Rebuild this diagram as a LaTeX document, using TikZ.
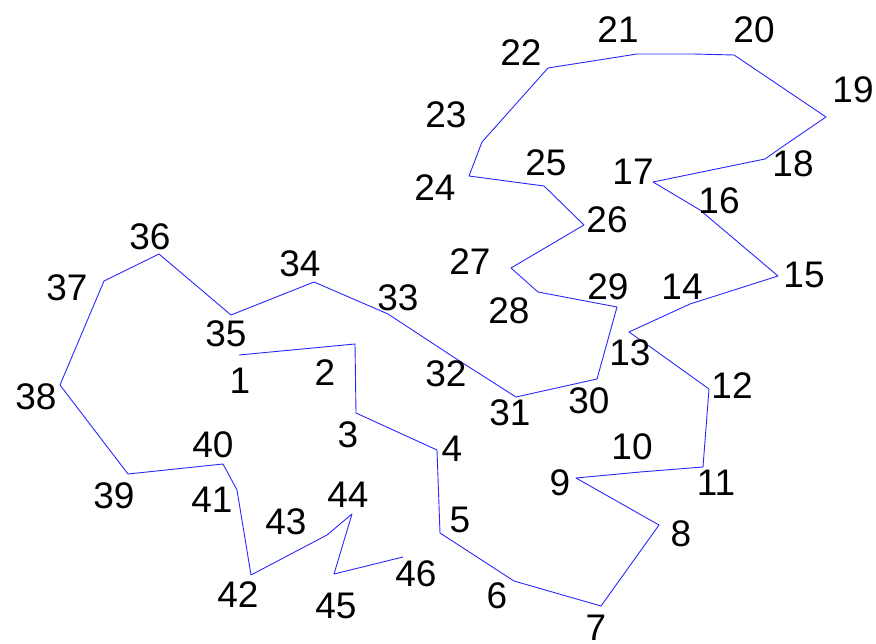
\documentclass[tikz,border=0pt]{standalone}
\usepackage{fontspec}
\setmainfont{Liberation Sans}
\definecolor{pathblue}{RGB}{40,40,255}
\begin{document}
\begin{tikzpicture}[x=1pt,y=-1pt,
  lbl/.style={inner sep=0pt,font=\fontsize{37}{40}\selectfont},
  route/.style={draw=pathblue,line width=0.9pt,line join=round}]
\useasboundingbox (0,0) rectangle (876,644);
% path vertices
\coordinate (p1) at (239,355);
\coordinate (p2) at (355,344);
\coordinate (p3) at (356,413);
\coordinate (p4) at (437,450);
\coordinate (p5) at (440,533);
\coordinate (p6) at (514,581);
\coordinate (p7) at (601,606);
\coordinate (p8) at (659,525);
\coordinate (p9) at (576,478);
\coordinate (p10) at (640,472);
\coordinate (p11) at (703,467);
\coordinate (p12) at (709,389);
\coordinate (k12) at (649,346);
\coordinate (p13) at (629,332);
\coordinate (p14) at (690,304);
\coordinate (p15) at (778,276);
\coordinate (p16) at (700,210);
\coordinate (p17) at (653,182);
\coordinate (p18) at (765,159);
\coordinate (k18) at (782,147);
\coordinate (p19) at (826,117);
\coordinate (p20) at (734,55);
\coordinate (p21) at (693,54);
\coordinate (k21) at (637,54);
\coordinate (p22) at (548,68);
\coordinate (p23) at (482,142);
\coordinate (p24) at (469,176);
\coordinate (p25) at (544,186);
\coordinate (p26) at (584,225);
\coordinate (p27) at (511,268);
\coordinate (p28) at (538,292);
\coordinate (p29) at (617,307);
\coordinate (p30) at (597,379);
\coordinate (p31) at (516,397);
\coordinate (p32) at (458,360);
\coordinate (p33) at (388,314);
\coordinate (p34) at (314,282);
\coordinate (p35) at (231,315);
\coordinate (p36) at (159,254);
\coordinate (p37) at (104,281);
\coordinate (p38) at (60,385);
\coordinate (p39) at (128,474);
\coordinate (p40) at (223,464);
\coordinate (p41) at (237,490);
\coordinate (p42) at (251,575);
\coordinate (p43) at (327,535);
\coordinate (p44) at (352,514);
\coordinate (p45) at (334,574);
\coordinate (p46) at (403,557);
\draw[route] (p1) -- (p2) -- (p3) -- (p4) -- (p5) -- (p6) -- (p7) -- (p8)
  -- (p9) -- (p10) -- (p11) -- (p12) -- (k12) -- (p13) -- (p14) -- (p15)
  -- (p16) -- (p17) -- (p18) -- (k18) -- (p19) -- (p20) -- (p21) -- (k21)
  -- (p22) -- (p23) -- (p24) -- (p25) -- (p26) -- (p27) -- (p28) -- (p29)
  -- (p30) -- (p31) -- (p32) -- (p33) -- (p34) -- (p35) -- (p36) -- (p37)
  -- (p38) -- (p39) -- (p40) -- (p41) -- (p42) -- (p43) -- (p44) -- (p45)
  -- (p46);
% labels
\node[lbl] (l1) at (240,381) {1};
\node[lbl] (l2) at (325,373) {2};
\node[lbl] (l3) at (348,435) {3};
\node[lbl] (l4) at (452,449) {4};
\node[lbl] (l5) at (460,520) {5};
\node[lbl] (l6) at (497,596) {6};
\node[lbl] (l7) at (596,628) {7};
\node[lbl] (l8) at (681,534) {8};
\node[lbl] (l9) at (560,483) {9};
\node[lbl] (l10) at (632,447) {10};
\node[lbl] (l11) at (716,483) {11};
\node[lbl] (l12) at (732,386) {12};
\node[lbl] (l13) at (630,353) {13};
\node[lbl] (l14) at (682,287) {14};
\node[lbl] (l15) at (804,275) {15};
\node[lbl] (l16) at (719,201) {16};
\node[lbl] (l17) at (633,172) {17};
\node[lbl] (l18) at (793,164) {18};
\node[lbl] (l19) at (853,90) {19};
\node[lbl] (l20) at (754,30) {20};
\node[lbl] (l21) at (618,30) {21};
\node[lbl] (l22) at (521,53) {22};
\node[lbl] (l23) at (446,115) {23};
\node[lbl] (l24) at (435,188) {24};
\node[lbl] (l25) at (546,163) {25};
\node[lbl] (l26) at (607,220) {26};
\node[lbl] (l27) at (470,262) {27};
\node[lbl] (l28) at (509,311) {28};
\node[lbl] (l29) at (608,287) {29};
\node[lbl] (l30) at (589,401) {30};
\node[lbl] (l31) at (510,413) {31};
\node[lbl] (l32) at (446,374) {32};
\node[lbl] (l33) at (398,298) {33};
\node[lbl] (l34) at (300,264) {34};
\node[lbl] (l35) at (226,334) {35};
\node[lbl] (l36) at (150,237) {36};
\node[lbl] (l37) at (67,288) {37};
\node[lbl] (l38) at (36,397) {38};
\node[lbl] (l39) at (114,496) {39};
\node[lbl] (l40) at (213,445) {40};
\node[lbl] (l41) at (212,500) {41};
\node[lbl] (l42) at (238,595) {42};
\node[lbl] (l43) at (286,522) {43};
\node[lbl] (l44) at (348,495) {44};
\node[lbl] (l45) at (336,606) {45};
\node[lbl] (l46) at (416,574) {46};
\end{tikzpicture}
\end{document}
